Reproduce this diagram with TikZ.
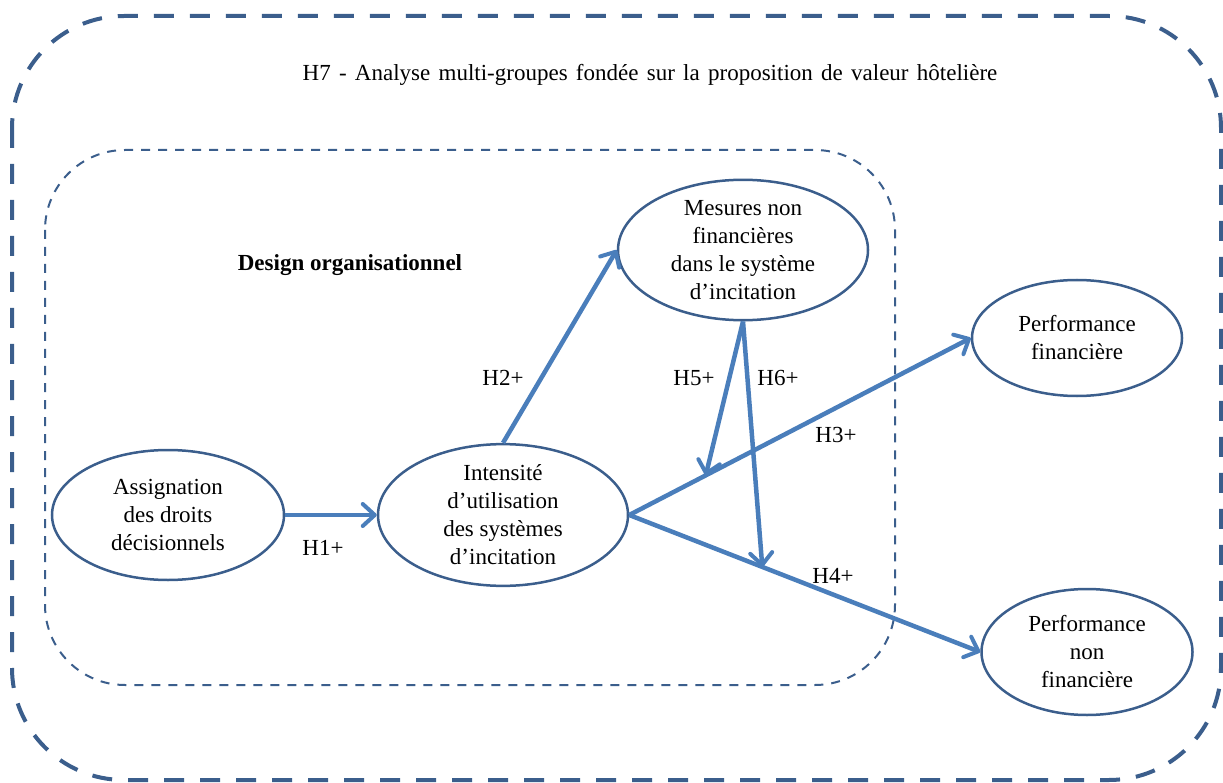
\documentclass[tikz,border=0pt]{standalone}
\usepackage{fontspec}
\setmainfont{Liberation Serif}
\usetikzlibrary{shapes.geometric,arrows.meta,calc}
\definecolor{frameblue}{RGB}{59,94,140}
\definecolor{arrowblue}{RGB}{74,126,187}
\begin{document}
\begin{tikzpicture}[x=1pt,y=-1pt,
  every node/.style={font=\fontsize{23}{28}\selectfont, text=black},
  outerbox/.style={draw=frameblue, line width=4pt, dash pattern=on 20pt off 16pt, rounded corners=112pt},
  innerbox/.style={draw=frameblue, line width=2pt, dash pattern=on 9pt off 8pt, rounded corners=80pt},
  concept/.style={ellipse, draw=frameblue, line width=2.5pt, inner sep=0pt, align=center},
  link/.style={draw=arrowblue, line width=4.5pt, -{Straight Barb[length=12pt,width=22pt,line width=4pt,round]}},
  hyp/.style={inner sep=0pt}
]
\useasboundingbox (0,0) rectangle (1223,783);
\draw[outerbox] (12,16) rectangle (1221,780);
\draw[innerbox] (45,150) rectangle (895,685);

\node (h7) at (650,75) {\spaceskip=0.36em plus 0.1em H7 - Analyse multi-groupes fondée sur la proposition de valeur hôtelière};
\node[font=\fontsize{23}{28}\selectfont\bfseries] (design) at (350,265) {Design organisationnel};

\node[concept, minimum width=232pt, minimum height=130pt] (a) at (168,515) {Assignation\\des droits\\décisionnels};
\node[concept, minimum width=250pt, minimum height=132pt] (b) at (503,515) {Intensité\\d’utilisation\\des systèmes\\d’incitation};
\node[concept, minimum width=250pt, minimum height=124pt] (m) at (743,250) {Mesures non\\financières\\dans le système\\d’incitation};
\node[concept, minimum width=210pt, minimum height=116pt] (pf) at (1077,338) {Performance\\financière};
\node[concept, minimum width=211pt, minimum height=126pt] (pn) at (1087,652) {Performance\\non\\financière};

\coordinate (h5end) at ($(b.east)!0.224!(pf.west)$);
\coordinate (h6end) at ($(b.east)!0.379!(pn.west)$);

\draw[link] (a.east) -- (b.west);
\draw[link] (b.north) -- (m.west);
\draw[link] (b.east) -- (pf.west);
\draw[link] (b.east) -- (pn.west);
\draw[link] (m.south) -- (h5end);
\draw[link] (m.south) -- (h6end);

\node[hyp] (l1) at (323,548) {H1+};
\node[hyp] (l2) at (503,378) {H2+};
\node[hyp] (l3) at (836,435) {H3+};
\node[hyp] (l4) at (833,576) {H4+};
\node[hyp] (l5) at (694,378) {H5+};
\node[hyp] (l6) at (778,378) {H6+};
\end{tikzpicture}
\end{document}
